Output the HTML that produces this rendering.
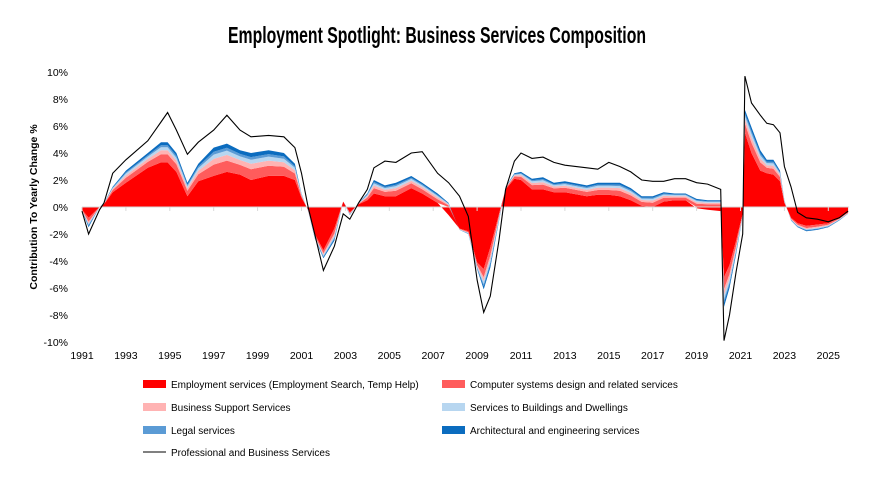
<!DOCTYPE html>
<html><head><meta charset="utf-8"><style>
body{margin:0;background:#fff;font-family:"Liberation Sans",sans-serif;}
svg text{font-family:"Liberation Sans",sans-serif;}
</style></head><body>
<svg id="c" width="878" height="475" xmlns="http://www.w3.org/2000/svg">
<text x="437" y="43" text-anchor="middle" font-size="23" font-weight="bold" textLength="418" lengthAdjust="spacingAndGlyphs">Employment Spotlight: Business Services Composition</text>
<text transform="translate(37,207) rotate(-90)" text-anchor="middle" font-size="10.5" font-weight="bold">Contribution To Yearly Change %</text>
<g id="plot"></g>
<g id="legend"></g>
</svg>
<script>
const times=[1991.0,1991.3,1991.8,1992.0,1992.4,1993.0,1994.0,1994.6,1994.9,1995.3,1995.8,1996.3,1997.0,1997.6,1998.2,1998.7,1999.5,2000.2,2000.7,2001.0,2001.3,2001.6,2002.0,2002.5,2002.9,2003.2,2003.6,2004.0,2004.3,2004.8,2005.3,2006.0,2006.5,2007.2,2007.7,2008.2,2008.6,2009.0,2009.3,2009.6,2010.0,2010.3,2010.7,2011.0,2011.5,2012.0,2012.5,2013.0,2014.0,2014.5,2015.0,2015.5,2016.0,2016.5,2017.0,2017.5,2018.0,2018.5,2019.0,2019.5,2020.1,2020.25,2020.5,2020.8,2021.1,2021.2,2021.5,2021.9,2022.2,2022.5,2022.8,2023.0,2023.3,2023.6,2024.0,2024.5,2025.0,2025.5,2025.9];
const totalLine=[-0.3,-2.0,-0.2,0.3,2.5,3.5,4.9,6.3,7.0,5.7,3.9,4.8,5.7,6.8,5.7,5.2,5.3,5.2,4.4,2.5,0.0,-2.0,-4.7,-2.9,-0.5,-0.9,0.3,1.3,2.9,3.4,3.3,4.0,4.1,2.5,1.8,0.8,-0.7,-5.4,-7.8,-6.6,-2.4,1.3,3.4,4.0,3.6,3.7,3.3,3.1,2.9,2.8,3.3,3.0,2.6,2.0,1.9,1.9,2.1,2.1,1.8,1.7,1.3,-9.9,-8.0,-4.8,-2.0,9.7,7.7,6.8,6.2,6.1,5.5,3.0,1.5,-0.4,-0.8,-0.9,-1.1,-0.8,-0.3];
const employmentSvc=[-0.2,-0.8,0.0,0.2,1.1,1.8,2.9,3.3,3.3,2.6,0.8,1.9,2.3,2.6,2.4,2.0,2.3,2.3,2.0,0.7,-0.2,-2.0,-3.2,-1.6,0.4,-0.4,0.2,0.5,1.0,0.8,0.8,1.4,1.0,0.3,-0.6,-1.6,-1.8,-4.1,-4.6,-3.0,-0.5,1.3,2.1,2.0,1.3,1.3,1.1,1.1,0.8,0.9,0.9,0.8,0.5,0.1,0.0,0.4,0.5,0.5,-0.1,-0.2,-0.3,-5.2,-4.3,-2.5,-0.5,5.5,4.0,2.7,2.5,2.4,1.9,0.3,-0.8,-1.2,-1.4,-1.3,-1.2,-0.8,-0.4];
const computerSvc=[-0.04,-0.28,0,0.04,0.16,0.36,0.44,0.6,0.6,0.56,0.4,0.52,0.84,0.84,0.72,0.8,0.76,0.68,0.48,0.12,-0.04,-0.12,-0.24,-0.36,0,-0.08,0.04,0.2,0.4,0.32,0.4,0.36,0.32,0.28,0.12,-0.04,-0.08,-0.2,-0.6,-0.6,-0.2,0.08,0.16,0.24,0.32,0.36,0.28,0.32,0.32,0.36,0.36,0.4,0.36,0.28,0.32,0.28,0.2,0.2,0.24,0.2,0.2,-0.88,-0.68,-0.4,-0.08,0.68,0.76,0.6,0.4,0.44,0.32,0.08,-0.08,-0.12,-0.16,-0.16,-0.12,-0.08,-0.04];
const businessSupport=[-0.02,-0.14,0,0.02,0.08,0.18,0.22,0.3,0.3,0.28,0.2,0.26,0.42,0.42,0.36,0.4,0.38,0.34,0.24,0.06,-0.02,-0.06,-0.12,-0.18,0,-0.04,0.02,0.1,0.2,0.16,0.2,0.18,0.16,0.14,0.06,-0.02,-0.04,-0.1,-0.3,-0.3,-0.1,0.04,0.08,0.12,0.16,0.18,0.14,0.16,0.16,0.18,0.18,0.2,0.18,0.14,0.16,0.14,0.1,0.1,0.12,0.1,0.1,-0.44,-0.34,-0.2,-0.04,0.34,0.38,0.3,0.2,0.22,0.16,0.04,-0.04,-0.06,-0.08,-0.08,-0.06,-0.04,-0.02];
const buildingsSvc=[-0.02,-0.1,0,0.02,0.06,0.14,0.17,0.22,0.22,0.21,0.15,0.2,0.32,0.32,0.27,0.3,0.29,0.26,0.18,0.05,-0.02,-0.05,-0.09,-0.14,0,-0.03,0.02,0.08,0.15,0.12,0.15,0.14,0.12,0.1,0.05,-0.02,-0.03,-0.08,-0.22,-0.22,-0.08,0.03,0.06,0.09,0.12,0.14,0.1,0.12,0.12,0.14,0.14,0.15,0.14,0.1,0.12,0.1,0.08,0.08,0.09,0.08,0.08,-0.33,-0.26,-0.15,-0.03,0.26,0.29,0.22,0.15,0.17,0.12,0.03,-0.03,-0.05,-0.06,-0.06,-0.05,-0.03,-0.02];
const legalSvc=[-0.01,-0.07,0,0.01,0.04,0.09,0.11,0.15,0.15,0.14,0.1,0.13,0.21,0.21,0.18,0.2,0.19,0.17,0.12,0.03,-0.01,-0.03,-0.06,-0.09,0,-0.02,0.01,0.05,0.1,0.08,0.1,0.09,0.08,0.07,0.03,-0.01,-0.02,-0.05,-0.15,-0.15,-0.05,0.02,0.04,0.06,0.08,0.09,0.07,0.08,0.08,0.09,0.09,0.1,0.09,0.07,0.08,0.07,0.05,0.05,0.06,0.05,0.05,-0.22,-0.17,-0.1,-0.02,0.17,0.19,0.15,0.1,0.11,0.08,0.02,-0.02,-0.03,-0.04,-0.04,-0.03,-0.02,-0.01];
const archEngSvc=[-0.01,-0.11,0,0.01,0.06,0.13,0.16,0.23,0.23,0.21,0.15,0.19,0.31,0.31,0.27,0.3,0.28,0.25,0.18,0.04,-0.01,-0.04,-0.09,-0.13,0,-0.03,0.01,0.07,0.15,0.12,0.15,0.13,0.12,0.11,0.04,-0.01,-0.03,-0.07,-0.23,-0.23,-0.07,0.03,0.06,0.09,0.12,0.13,0.11,0.12,0.12,0.13,0.13,0.15,0.13,0.11,0.12,0.11,0.07,0.07,0.09,0.07,0.07,-0.33,-0.25,-0.15,-0.03,0.25,0.28,0.23,0.15,0.16,0.12,0.03,-0.03,-0.04,-0.06,-0.06,-0.04,-0.03,-0.01];
const yTicks=[10,8,6,4,2,0,-2,-4,-6,-8,-10];
const xTicks=[1991,1993,1995,1997,1999,2001,2003,2005,2007,2009,2011,2013,2015,2017,2019,2021,2023,2025];
const seriesNames=["Employment services (Employment Search, Temp Help)","Computer systems design and related services","Business Support Services","Services to Buildings and Dwellings","Legal services","Architectural and engineering services"];
const seriesColors=["#ff0000","#ff5c5c","#ffb3b3","#b7d6f0","#5b9bd5","#0b6cbf"];
const series=[employmentSvc,computerSvc,businessSupport,buildingsSvc,legalSvc,archEngSvc];

const NS="http://www.w3.org/2000/svg";
const X0=82,PX=21.95,Y0=207,PY=13.5;
const xs=t=>X0+(t-1991)*PX;
const ys=v=>Y0-v*PY;
const plot=document.getElementById('plot');
function mk(tag,attrs,parent){const e=document.createElementNS(NS,tag);for(const k in attrs)e.setAttribute(k,attrs[k]);parent.appendChild(e);return e;}

yTicks.forEach(v=>{
  const t=mk('text',{x:68,y:ys(v)+4,'text-anchor':'end','font-size':10.5},plot);
  t.textContent=v+'%';
  
  
});
xTicks.forEach(yr=>{
  const t=mk('text',{x:xs(yr),y:359,'text-anchor':'middle','font-size':10.5},plot);
  t.textContent=yr;
  
  
});
const posBase=times.map(()=>0),negBase=times.map(()=>0);
series.forEach((arr,si)=>{
  const lo=[],hi=[];
  arr.forEach((v,i)=>{
    if(v>=0){lo.push(posBase[i]);posBase[i]+=v;hi.push(posBase[i]);}
    else{lo.push(negBase[i]);negBase[i]+=v;hi.push(negBase[i]);}
  });
  let d='M'+times.map((t,i)=>xs(t).toFixed(1)+','+ys(hi[i]).toFixed(1)).join('L');
  for(let i=times.length-1;i>=0;i--)d+='L'+xs(times[i]).toFixed(1)+','+ys(lo[i]).toFixed(1);
  const p=mk('path',{d:d+'Z',fill:seriesColors[si]},plot);
  
  
});
const ax=mk('line',{x1:X0,x2:xs(2025.95),y1:Y0,y2:Y0,stroke:'#d9d9d9','stroke-width':1},plot);


xTicks.forEach(yr=>{
  const tk=mk('line',{x1:xs(yr),x2:xs(yr),y1:Y0,y2:Y0+4,stroke:'#d9d9d9'},plot);
  
  
});
const ln=mk('path',{d:'M'+times.map((t,i)=>xs(t).toFixed(1)+','+ys(totalLine[i]).toFixed(1)).join('L'),fill:'none',stroke:'#000','stroke-width':1.1},plot);



const leg=document.getElementById('legend');
const rowsY=[384,407,430];
seriesNames.forEach((n,i)=>{
  const col=i%2,row=Math.floor(i/2);
  const sx=col?442:143,y=rowsY[row];
  const g=mk('g',{},leg);
  
  
  mk('rect',{x:sx,y:y-4,width:23,height:8,fill:seriesColors[i]},g);
  const t=mk('text',{x:sx+28,y:y+4,'font-size':10},g);
  t.textContent=n;
});
const g=mk('g',{},leg);


mk('line',{x1:143,x2:166,y1:452,y2:452,stroke:'#000','stroke-width':1.1},g);
const tt=mk('text',{x:171,y:456,'font-size':10},g);
tt.textContent='Professional and Business Services';
</script>
</body></html>
